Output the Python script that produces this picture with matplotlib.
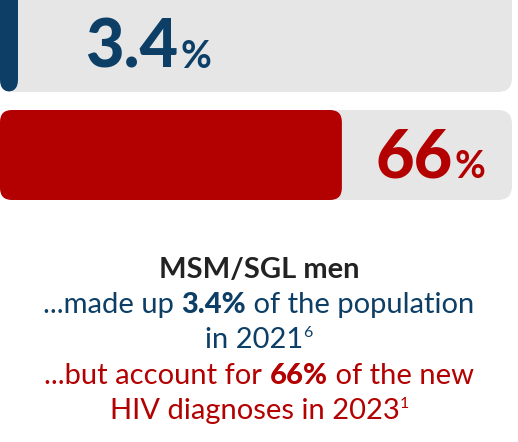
import matplotlib
matplotlib.use("Agg")
import matplotlib.pyplot as plt
from matplotlib.patches import FancyBboxPatch

values = [3.4, 66]
labels = ["3.4", "66"]
colors = ["#0d3f66", "#b30000"]
track = "#e6e6e6"
W, H = 518, 442

fig = plt.figure(figsize=(5.18, 4.42), dpi=100)
ax = fig.add_axes([0, 0, 1, 1])
ax.set_xlim(0, W); ax.set_ylim(H, 0); ax.axis("off")
scale = W / 100.0

rows = [(-20, 92), (110, 200)]
for (y0, y1), v, lab, c in zip(rows, values, labels, colors):
    ax.add_patch(FancyBboxPatch((2, y0), 510, y1 - y0, boxstyle="round,pad=0,rounding_size=14",
                                fc=track, ec="none"))
    ax.add_patch(FancyBboxPatch((0, y0), max(v * scale, 18), y1 - y0,
                                boxstyle="round,pad=0,rounding_size=12", fc=c, ec="none"))

fig.canvas.draw()
r = fig.canvas.get_renderer()

def big(x, y, s, color):
    t = ax.text(x, y, s, color=color, fontsize=48, fontweight="black", family="Lato",
                va="baseline", ha="left")
    w = t.get_window_extent(r).width
    ax.text(x + w + 2, y, "%", color=color, fontsize=27, fontweight="bold", family="Lato",
            va="baseline", ha="left")

big(85, 68, labels[0], colors[0])
big(375, 178, labels[1], colors[1])

def line(y, pieces, color, size=21):
    ts = []
    for s, w, sup in pieces:
        t = ax.text(0, y, s, color=color, fontsize=size * (0.55 if sup else 1), fontweight=w,
                    family="Lato", va="baseline", ha="left")
        ts.append((t, sup))
    widths = [t.get_window_extent(r).width for t, _ in ts]
    x = W / 2 - sum(widths) / 2
    for (t, sup), wd in zip(ts, widths):
        t.set_x(x)
        if sup: t.set_y(y - 11)
        x += wd

line(278, [("MSM/SGL men", "bold", False)], "#222222")
line(313, [("...made up ", "normal", False), ("3.4%", "black", False), (" of the population", "normal", False)], colors[0])
line(348, [("in 2021", "normal", False), ("6", "normal", True)], colors[0])
line(384, [("...but account for ", "normal", False), ("66%", "black", False), (" of the new", "normal", False)], colors[1])
line(419, [("HIV diagnoses in 2023", "normal", False), ("1", "normal", True)], colors[1])

fig.savefig("out.png", dpi=100)
